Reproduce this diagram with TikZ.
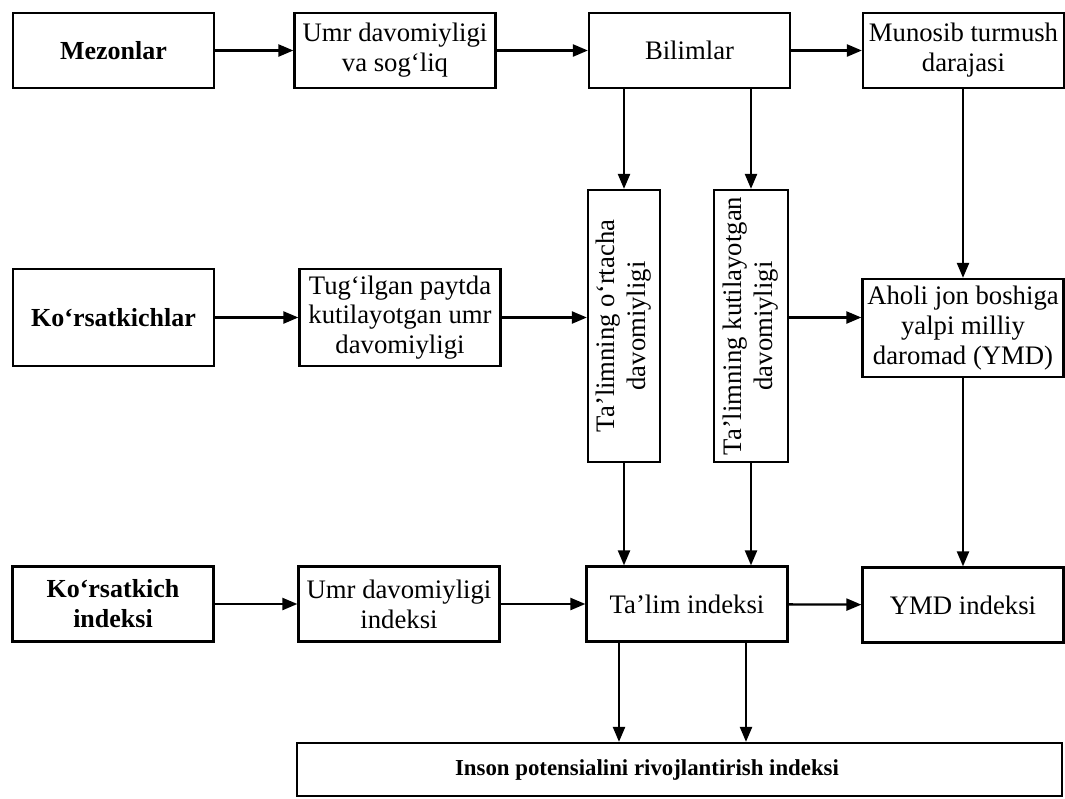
\documentclass[tikz,border=0pt]{standalone}
\usepackage{fontspec}
\setmainfont{Liberation Serif}
\usepackage{graphicx}
\usetikzlibrary{calc,arrows.meta}

\tikzset{
    blok/.style={draw, line width=1.3pt, align=center, inner sep=2pt,
        minimum width=4.02cm, font=\fontsize{15.2}{17}\selectfont},
    boldblok/.style={blok, font=\fontsize{14.8}{17}\selectfont\bfseries},
    tikblok/.style={draw, line width=1.3pt, inner sep=1pt, minimum height=5.44cm,
        font=\fontsize{15.2}{17.5}\selectfont},
    strelka/.style={line width=1.3pt, -{Triangle[length=0.3cm,width=0.24cm]}}
}

\begin{document}
\begin{tikzpicture}[x=0.02cm,y=-0.02cm]
        % ramka
        \useasboundingbox (0,0) rectangle (1065,798);

        % 1-qator
        \node[boldblok, minimum height=1.5cm] (mez) at (113.5,50.5) {Mezonlar};
        \node[blok, minimum height=1.5cm] (umr) at (395,50.5) {Umr davomiyligi\\va sog‘liq};
        \node[blok, minimum height=1.5cm] (bil) at (689.5,50.5) {Bilimlar};
        \node[blok, minimum height=1.5cm] (mun) at (963.5,50.5) {Munosib turmush\\darajasi};

        % 2-qator
        \node[boldblok, minimum height=1.94cm] (kor) at (113.5,317.5) {Ko‘rsatkichlar};
        \node[blok, minimum height=1.94cm] (tug) at (400,317.5) {Tug‘ilgan paytda\\kutilayotgan umr\\davomiyligi};
        \node[tikblok, minimum width=1.44cm] (v1) at (624,326)
            {\rotatebox{90}{\begin{tabular}{@{}c@{}}Ta’limning o‘rtacha\\davomiyligi\end{tabular}}};
        \node[tikblok, minimum width=1.48cm] (v2) at (751,326)
            {\rotatebox{90}{\begin{tabular}{@{}c@{}}Ta’limning kutilayotgan\\davomiyligi\end{tabular}}};
        \node[blok, minimum height=1.96cm] (aholi) at (963,328) {Aholi jon boshiga\\yalpi milliy\\daromad (YMD)};

        % 3-qator
        \node[boldblok, minimum height=1.5cm] (ki) at (113,604) {Ko‘rsatkich\\indeksi};
        \node[blok, minimum height=1.5cm] (umri) at (399,604) {Umr davomiyligi\\indeksi};
        \node[blok, minimum height=1.5cm] (ta) at (687,604) {Ta’lim indeksi};
        \node[blok, minimum height=1.5cm] (ymd) at (963,605) {YMD indeksi};

        % yakuniy indeks
        \node[draw, line width=1.3pt, minimum width=15.3cm, minimum height=1.06cm,
            font=\fontsize{13}{15}\selectfont\bfseries] (ipri) at (679.5,769.5)
            {Inson potensialini rivojlantirish indeksi\hspace*{1.3cm}};

        % strelkalar
        \draw[strelka] (mez) -- (umr);
        \draw[strelka] (umr) -- (bil);
        \draw[strelka] (bil) -- (mun);
        \draw[strelka] (bil.south -| v1.north) -- (v1.north);
        \draw[strelka] (bil.south -| v2.north) -- (v2.north);
        \draw[strelka] (mun.south -| aholi.north) -- (aholi.north);

        \draw[strelka] (kor) -- (tug);
        \draw[strelka] (tug.east) -- (tug.east -| v1.west);
        \draw[strelka] (v2.east |- tug.east) -- (aholi.west |- tug.east);

        \draw[strelka] (v1.south) -- (ta.north -| v1.south);
        \draw[strelka] (v2.south) -- (ta.north -| v2.south);
        \draw[strelka] (aholi.south) -- (ymd.north -| aholi.south);

        \draw[strelka] (ki) -- (umri);
        \draw[strelka] (umri) -- (ta);
        \draw[strelka] (ta) -- (ymd);
        \draw[strelka] ($(ta.south -| v1.south)+(-5,0)$) -- ($(ipri.north -| v1.south)+(-5,0)$);
        \draw[strelka] ($(ta.south -| v2.south)+(-5,0)$) -- ($(ipri.north -| v2.south)+(-5,0)$);
    \end{tikzpicture}
\end{document}
